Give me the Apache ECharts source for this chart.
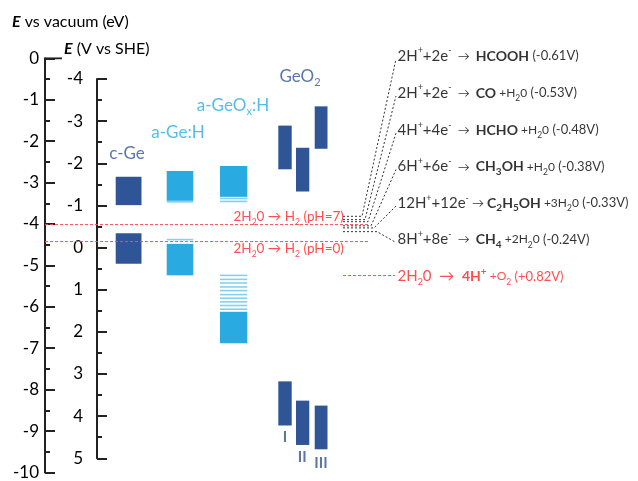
<!DOCTYPE html>
<html><head><meta charset="utf-8">
<script src="https://cdn.jsdelivr.net/npm/echarts@6/dist/echarts.min.js"></script>
<style>html,body{margin:0;padding:0;background:#fff}#c{width:638px;height:481px}</style>
</head><body><div id="c"></div>
<script>
// ================= DATA =================
// Energy scale: eV vs vacuum. 0 V vs SHE sits at this vacuum energy in the drawing.
const SHE_ZERO_VAC = -4.425;
const vacuumTicks = [0,-1,-2,-3,-4,-5,-6,-7,-8,-9,-10];
const sheTicks = [-4,-3,-2,-1,0,1,2,3,4,5];

// band blocks: c-Ge, a-Ge:H, a-GeOx:H, GeO2 I, GeO2 II, GeO2 III
const bandNames  = ['c-Ge','a-Ge:H','a-GeOx:H','GeO2 I','GeO2 II','GeO2 III'];
const cbUpper    = [-2.86, -2.72, -2.60, -1.625, -2.16, -1.16];
const cbLower    = [-3.545,-3.44, -3.345,-2.68, -3.216,-2.184];
const vbUpper    = [-4.224,-4.48, -6.12, -7.80, -8.265,-8.385];
const vbLower    = [-4.96, -5.24, -6.88, -8.865,-9.335,-9.44];
const barLeft    = [7.07, 12.17, 17.5, 23.33, 25.1, 26.97];
const barRight   = [9.65, 14.83, 20.23, 24.67, 26.43, 28.25];
const barColour  = [0, 1, 1, 0, 0, 0];

// tail states (block index, energy eV vs vacuum)
const tailBlock  = [1, 1, 2, 2, 2, 2, 2, 2, 2, 2, 2, 2, 2, 2];
const tailEnergy = [-3.465, -4.377, -3.384, -3.456,
                    -5.241, -5.337, -5.424, -5.52, -5.609, -5.705, -5.793, -5.88, -5.968, -6.057];

// CO2 reduction potentials (V vs SHE)
const reactionPotential = [-0.61, -0.53, -0.48, -0.38, -0.33, -0.24];
const reactionLabelY    = [0.055, -0.84, -1.737, -2.616, -3.497, -4.377];
const reactionKneeX     = [31.7, 32.0, 32.3, 32.6, 32.9, 33.2];
const reactionTokens = [
  [['n','2H'],['np','+'],['n','+2e'],['np','-'],['a','  →  '],['b','HCOOH'],['v',' (-0.61V)']],
  [['n','2H'],['np','+'],['n','+2e'],['np','-'],['a','  →  '],['b','CO'],['s',' +H'],['sd','2'],['s','0'],['v',' (-0.53V)']],
  [['n','4H'],['np','+'],['n','+4e'],['np','-'],['a','  →  '],['b','HCHO'],['s',' +H'],['sd','2'],['s','0'],['v',' (-0.48V)']],
  [['n','6H'],['np','+'],['n','+6e'],['np','-'],['a','  →  '],['b','CH'],['bd','3'],['b','OH'],['s',' +H'],['sd','2'],['s','0'],['v',' (-0.38V)']],
  [['n','12H'],['np','+'],['n','+12e'],['np','-'],['a',' → '],['b','C'],['bd','2'],['b','H'],['bd','5'],['b','OH'],['s',' +3H'],['sd','2'],['s','0'],['v',' (-0.33V)']],
  [['n','8H'],['np','+'],['n','+8e'],['np','-'],['a','  →  '],['b','CH'],['bd','4'],['s',' +2H'],['sd','2'],['s','0'],['v',' (-0.24V)']]
];
// water redox (V vs SHE)
const h2Potential = [-0.41, 0];          // pH=7, pH=0
const h2Tokens = [
  [['p','2H'],['pd','2'],['p','0 → H'],['pd','2'],['p',' (pH=7)']],
  [['p','2H'],['pd','2'],['p','0 → H'],['pd','2'],['p',' (pH=0)']]
];
const h2LabelY = [-3.833, -4.60];
const o2Potential = 0.82;
const o2Tokens = [['n','2H'],['nd','2'],['n','0  →  '],['b','4H'],['bp','+'],['s',' +O'],['sd','2'],['v',' (+0.82V)']];

// material labels
const materialLabels = [
  [['m','c-Ge']], [['m','a-Ge:H']], [['m','a-GeO'],['md','x'],['m',':H']], [['m','GeO'],['md','2']]
];
const materialX = [8.2, 13.3, 18.8, 25.5];
const materialY = [-2.297, -1.793, -1.145, -0.449];
const materialColour = [0, 1, 1, 0];
const numerals = ['I','II','III'];
const numeralX = [24.0, 25.73, 27.6];
const numeralY = [-9.148, -9.64, -9.784];

// ================= STYLE =================
const DARK = '#2F5597', LIGHT = '#29ABE2', TAIL = '#86CFF2';
const RED = '#FF1F1F', REDLINE = '#FF4A4A', INK = '#000000';
const FONT = 'Lato';
const toVac = v => SHE_ZERO_VAC - v;

function makeRich(color, prefix) {
  const r = {};
  const base = {color: color, fontFamily: FONT, lineHeight: 20};
  const def = {
    n:{fontSize:15}, np:{fontSize:9, verticalAlign:'top', lineHeight:10}, nd:{fontSize:9, verticalAlign:'bottom', lineHeight:10},
    b:{fontSize:14, fontWeight:'bold'}, bp:{fontSize:10, fontWeight:'bold', verticalAlign:'top', lineHeight:10},
    bd:{fontSize:10, fontWeight:'bold', verticalAlign:'bottom', lineHeight:10},
    v:{fontSize:13}, s:{fontSize:12}, sd:{fontSize:8.5, verticalAlign:'bottom', lineHeight:10},
    a:{fontSize:12},
    p:{fontSize:13.5}, pd:{fontSize:8.5, verticalAlign:'bottom', lineHeight:10}
  };
  for (const k in def) r[prefix + k] = Object.assign({}, base, def[k]);
  return r;
}
const rich = Object.assign({}, makeRich(INK, 'k'), makeRich(RED, 'r'));
const fmt = (tokens, prefix) => tokens.map(t => '{' + prefix + t[0] + '|' + t[1] + '}').join('');
const matRich = {};
[DARK, LIGHT].forEach((c, i) => {
  matRich['c' + i + 'm'] = {color:c, fontSize:17, fontFamily:FONT, lineHeight:22};
  matRich['c' + i + 'md'] = {color:c, fontSize:11, fontFamily:FONT, verticalAlign:'bottom', lineHeight:11};
});

// ================= SERIES =================
const blocks = [];
bandNames.forEach((n, i) => {
  blocks.push([barLeft[i], barRight[i], cbUpper[i], cbLower[i], barColour[i]]);
  blocks.push([barLeft[i], barRight[i], vbUpper[i], vbLower[i], barColour[i]]);
});
const tails = tailBlock.map((b, i) => [barLeft[b], barRight[b], tailEnergy[i]]);

const reactionLines = reactionPotential.map((p, i) => ({
  coords: [[29.8, toVac(p)], [reactionKneeX[i], toVac(p)], [35.1, reactionLabelY[i] - 0.07]]
}));

const labelPts = [];
reactionTokens.forEach((t, i) => labelPts.push({value:[35.2, reactionLabelY[i]], label:{formatter: fmt(t, 'k')}}));
labelPts.push({value:[35.2, toVac(o2Potential) - 0.02], label:{formatter: fmt(o2Tokens, 'r')}});
h2Tokens.forEach((t, i) => labelPts.push({value:[18.8, h2LabelY[i]], label:{formatter: fmt(t, 'r')}}));

const matPts = materialLabels.map((t, i) => ({
  value:[materialX[i], materialY[i]],
  label:{formatter: t.map(x => '{c' + materialColour[i] + x[0] + '|' + x[1] + '}').join('')}
}));
const numPts = numerals.map((t, i) => ({value:[numeralX[i], numeralY[i]], label:{formatter: t}}));

const axisCommon = {
  type:'value', interval:1,
  axisLine:{show:true, onZero:false, lineStyle:{color:'#222', width:2}},
  axisTick:{show:true, inside:true, length:10, lineStyle:{color:'#222', width:2}},
  minorTick:{show:true, splitNumber:2, length:5, lineStyle:{color:'#222', width:2}},
  splitLine:{show:false}, minorSplitLine:{show:false},
  axisLabel:{fontSize:17, color:INK, fontFamily:FONT}
};
const titleStyle = {fontSize:16, fontWeight:'normal', color:INK, fontFamily:FONT,
  rich:{e:{fontSize:16, fontWeight:'bold', fontStyle:'italic', color:INK, fontFamily:FONT}}};

const option = {
  animation:false,
  backgroundColor:'#fff',
  textStyle:{fontFamily:FONT},
  title:[
    {text:'{e|E} vs vacuum (eV)', left:7, top:9, padding:5, textStyle:titleStyle},
    {text:'{e|E} (V vs SHE)', left:59, top:36, padding:5, textStyle:titleStyle}
  ],
  grid:[
    {left:45, right:0, top:58.3, height:416.7},
    {left:97, top:79, height:379.3, width:20}
  ],
  xAxis:[
    {gridIndex:0, type:'value', min:0, max:59.3, show:false},
    {gridIndex:1, type:'value', min:0, max:1, show:false}
  ],
  yAxis:[
    Object.assign({}, axisCommon, {gridIndex:0, min:vacuumTicks[vacuumTicks.length-1], max:vacuumTicks[0],
      axisLabel:Object.assign({}, axisCommon.axisLabel, {margin:6})}),
    Object.assign({}, axisCommon, {gridIndex:1, min:sheTicks[0], max:sheTicks[sheTicks.length-1], inverse:true,
      axisLabel:Object.assign({}, axisCommon.axisLabel, {margin:14})})
  ],
  series:[
    {type:'line', xAxisIndex:0, yAxisIndex:0, data:[[0,0],[1.7,0]], symbol:'none', silent:true,
     lineStyle:{color:'#222', width:2}},
    // water reduction lines
    ...h2Potential.map(p => ({type:'line', xAxisIndex:0, yAxisIndex:0, symbol:'none', silent:true,
      data:[[0, toVac(p)], [32.3, toVac(p)]], lineStyle:{color:REDLINE, width:1, type:[3,2]}})),
    {type:'line', xAxisIndex:0, yAxisIndex:0, symbol:'none', silent:true,
      data:[[29.8, toVac(o2Potential)], [35.0, toVac(o2Potential)]], lineStyle:{color:REDLINE, width:1, type:[3,2]}},
    {type:'lines', coordinateSystem:'cartesian2d', xAxisIndex:0, yAxisIndex:0, polyline:true, silent:true,
      data:reactionLines, lineStyle:{color:'#333', width:1, type:[2,2], opacity:1}},
    {type:'custom', xAxisIndex:0, yAxisIndex:0, clip:false, silent:true, data:blocks,
     encode:{x:[0,1], y:[2,3]},
     renderItem:(params, api) => {
       const p0 = api.coord([api.value(0), api.value(2)]);
       const p1 = api.coord([api.value(1), api.value(3)]);
       return {type:'rect', shape:{x:p0[0], y:p0[1], width:p1[0]-p0[0], height:p1[1]-p0[1]},
               style:{fill: api.value(4) === 0 ? DARK : LIGHT}};
     }},
    {type:'custom', xAxisIndex:0, yAxisIndex:0, clip:false, silent:true, data:tails,
     encode:{x:[0,1], y:[2]},
     renderItem:(params, api) => {
       const p0 = api.coord([api.value(0), api.value(2)]);
       const p1 = api.coord([api.value(1), api.value(2)]);
       return {type:'rect', shape:{x:p0[0], y:p0[1]-0.8, width:p1[0]-p0[0], height:1.6},
               style:{fill: TAIL}};
     }},
    {type:'scatter', xAxisIndex:0, yAxisIndex:0, clip:false, silent:true, symbolSize:1,
     itemStyle:{color:'transparent'}, data:labelPts,
     label:{show:true, position:'right', distance:0, rich:rich}},
    {type:'scatter', xAxisIndex:0, yAxisIndex:0, clip:false, silent:true, symbolSize:1,
     itemStyle:{color:'transparent'}, data:matPts,
     label:{show:true, position:'inside', rich:matRich}},
    {type:'scatter', xAxisIndex:0, yAxisIndex:0, clip:false, silent:true, symbolSize:1,
     itemStyle:{color:'transparent'}, data:numPts,
     label:{show:true, position:'inside', color:DARK, fontSize:15, fontWeight:'bold', fontFamily:FONT}}
  ]
};
const chart = echarts.init(document.getElementById('c'), null, {renderer:'canvas'});
chart.setOption(option);
</script>
</body></html>
